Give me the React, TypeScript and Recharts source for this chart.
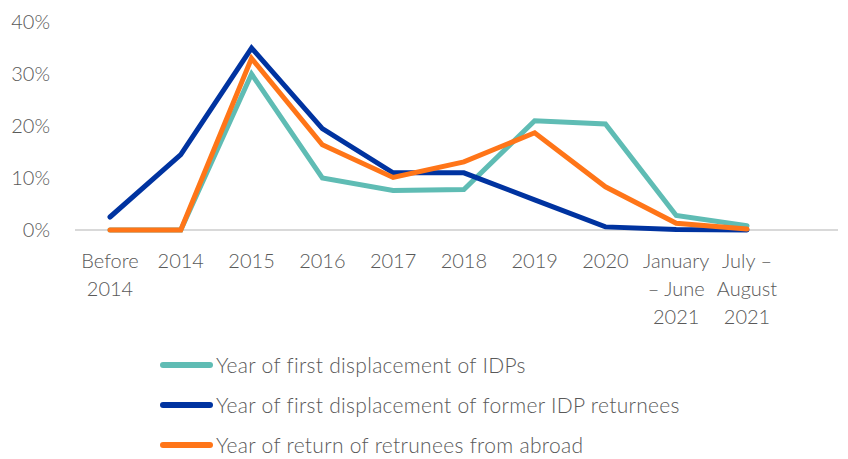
import React from 'react';
import { LineChart, Line, XAxis, YAxis, Legend, ReferenceLine } from 'recharts';

const periods = [
  'Before\n2014',
  '2014',
  '2015',
  '2016',
  '2017',
  '2018',
  '2019',
  '2020',
  'January\n– June\n2021',
  'July –\nAugust\n2021',
];

const idps = [0, 0, 30, 10, 7.6, 7.8, 21, 20.4, 2.8, 0.8];
const formerIdpReturnees = [2.5, 14.5, 35, 19.5, 11, 11, 5.8, 0.6, 0.1, 0];
const returneesAbroad = [0, 0, 33, 16.4, 10.1, 13.1, 18.7, 8.3, 1.3, 0.2];

const yTicks = [0, 10, 20, 30, 40];

const seriesInfo = [
  { key: 'idps', name: 'Year of first displacement of IDPs', color: '#5fbcb4' },
  { key: 'former', name: 'Year of first displacement of former IDP returnees', color: '#0033a0' },
  { key: 'abroad', name: 'Year of return of retrunees from abroad', color: '#ff7518' },
];

const data = periods.map((period, i) => ({
  period,
  idps: idps[i],
  former: formerIdpReturnees[i],
  abroad: returneesAbroad[i],
}));

const FONT = 'Lato, "Open Sans", sans-serif';
const TEXT = '#595959';

function PeriodTick({ x, y, payload }: any) {
  const lines = String(payload.value).split('\n');
  return (
    <text x={x} y={y} textAnchor="middle" fill={TEXT} fontSize={20} fontWeight={300} fontFamily={FONT}>
      {lines.map((line, i) => (
        <tspan key={i} x={x} dy={i === 0 ? 30 : 28}>
          {line}
        </tspan>
      ))}
    </text>
  );
}

function LegendBox() {
  return (
    <div style={{ fontFamily: FONT, color: TEXT, fontSize: 21, fontWeight: 300, letterSpacing: 0.3, lineHeight: '20px' }}>
      {seriesInfo.map((s, i) => (
        <div key={s.key} style={{ display: 'flex', alignItems: 'center', height: 20, marginTop: i === 0 ? 0 : 20 }}>
          <div style={{ width: 53, height: 6, borderRadius: 3, background: s.color, marginRight: 3 }} />
          <span>{s.name}</span>
        </div>
      ))}
    </div>
  );
}

export default function App() {
  return (
    <div style={{ position: 'absolute', left: 0, top: 0, background: '#fff' }}>
      <LineChart width={848} height={459} data={data} margin={{ top: 22, right: 10, bottom: 129, left: 10 }}>
        <XAxis
          dataKey="period"
          interval={0}
          height={100}
          tickLine={false}
          axisLine={false}
          padding={{ left: 35, right: 91 }}
          tick={<PeriodTick />}
        />
        <YAxis
          width={65}
          domain={[0, 40]}
          ticks={yTicks}
          axisLine={false}
          tickLine={false}
          tickSize={0}
          tickMargin={25}
          tickFormatter={(v) => `${v}%`}
          tick={{ fill: TEXT, fontSize: 20, fontWeight: 300, fontFamily: FONT }}
        />
        <ReferenceLine y={0} stroke="#d9d9d9" strokeWidth={2} />
        <Legend
          layout="vertical"
          align="center"
          verticalAlign="middle"
          wrapperStyle={{ top: 355, left: 160, width: 600 }}
          content={<LegendBox />}
        />
        {seriesInfo.map((s) => (
          <Line
            key={s.key}
            type="linear"
            dataKey={s.key}
            name={s.name}
            stroke={s.color}
            strokeWidth={5}
            strokeLinecap="round"
            dot={false}
            activeDot={false}
            isAnimationActive={false}
          />
        ))}
      </LineChart>
    </div>
  );
}
